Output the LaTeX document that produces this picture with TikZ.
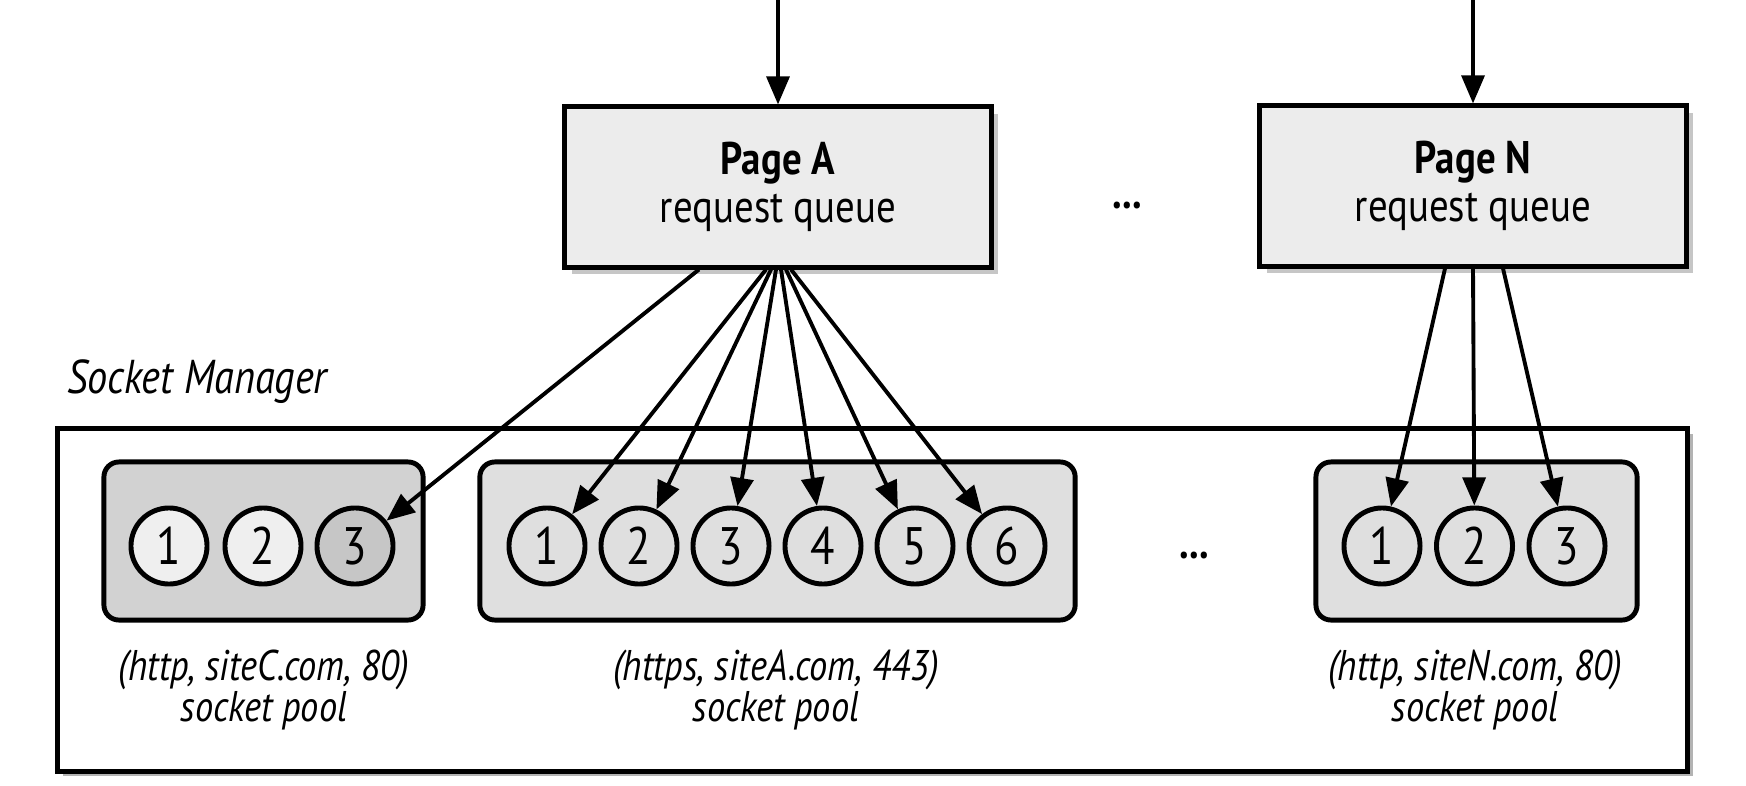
\documentclass[tikz,border=0pt]{standalone}
\usepackage{fontspec}
\setmainfont{PT Sans}[FakeStretch=0.85]
\usetikzlibrary{arrows.meta}
\usetikzlibrary{shadows}
\definecolor{pagegray}{HTML}{ECECEC}
\definecolor{poolgray}{HTML}{DFDFDF}
\definecolor{pooldark}{HTML}{D2D2D2}
\definecolor{socklight}{HTML}{EFEFEF}
\definecolor{sockdark}{HTML}{C6C6C6}

\begin{document}
\begin{tikzpicture}[
		x=0.01cm, y=-0.01cm,
		pagebox/.style={draw, line width=1.4pt, fill=pagegray, minimum width=4.26cm, minimum height=1.6cm, align=center,
			font=\fontsize{13}{13.5}\selectfont,
			drop shadow={shadow xshift=0.07cm, shadow yshift=-0.07cm, opacity=0.45}},
		poolbox/.style={draw, line width=1.4pt, rounded corners=0.15cm, minimum height=1.58cm},
		sock/.style={circle, draw, line width=1.4pt, minimum size=0.76cm, inner sep=0pt, font=\fontsize{15}{15}\selectfont},
		link/.style={-{Triangle[length=8pt, width=6.5pt]}, line width=1.1pt},
		poollabel/.style={align=center, font=\itshape\fontsize{12.2}{11.8}\selectfont},
	]
	\useasboundingbox (0,0) rectangle (1746,785);
	
	\node[draw, line width=1.4pt, fill=white, minimum width=16.29cm, minimum height=3.42cm,
		drop shadow={shadow xshift=0.05cm, shadow yshift=-0.05cm, opacity=0.6}]
		(manager) at (872.5,600) {};
	
	\node[anchor=west, font=\itshape\fontsize{13.5}{15}\selectfont]
		(managerlabel) at (55,382) {Socket Manager};
	
	\node[poolbox, fill=pooldark, minimum width=3.19cm] (poolC) at (263.5,541) {};
	\node[poolbox, fill=poolgray, minimum width=5.95cm] (poolA) at (777.5,541) {};
	\node[poolbox, fill=poolgray, minimum width=3.21cm] (poolN) at (1476.5,541) {};
	
	\foreach \i/\x/\shade in {1/169/socklight, 2/263/socklight, 3/355/sockdark}{
		\node[sock, fill=\shade] (c\i) at (\x,546) {\i};
	}
	\foreach \i in {1,...,6}{
		\node[sock, fill=poolgray] (a\i) at ({547+92*(\i-1)},546) {\i};
	}
	\foreach \i in {1,2,3}{
		\node[sock, fill=poolgray] (n\i) at ({1382+92.5*(\i-1)},546) {\i};
	}
	
	\node[poollabel] (labelC) at (264,690) {(http, siteC.com, 80)\\socket pool};
	\node[poollabel] (labelA) at (776,690) {(https, siteA.com, 443)\\socket pool};
	\node[poollabel] (labelN) at (1475,690) {(http, siteN.com, 80)\\socket pool};
	
	\node[pagebox] (pageA) at (778,187) {\textbf{Page A}\\request queue};
	\node[pagebox] (pageN) at (1473,186) {\textbf{Page N}\\request queue};
	
	\node[font=\fontsize{13}{14}\selectfont\bfseries] (dotsPages) at (1127,206) {...};
	\node[font=\fontsize{13}{14}\selectfont\bfseries] (dotsPools) at (1194,556) {...};
	
	\coordinate (inA) at (778,0);
	\coordinate (inN) at (1473,0);
	\draw[link] (inA) -- (pageA);
	\draw[link] (inN) -- (pageN);
	
	\draw[link] ([xshift=-0.79cm]pageA.south) -- (c3);
	\foreach \i/\dx in {1/-0.12,2/-0.07,3/-0.02,4/0.03,5/0.08,6/0.13}{
		\draw[link] ([xshift=\dx cm]pageA.south) -- (a\i);
	}
	\foreach \i/\dx in {1/-0.28,2/0,3/0.30}{
		\draw[link] ([xshift=\dx cm]pageN.south) -- (n\i);
	}
\end{tikzpicture}
\end{document}
